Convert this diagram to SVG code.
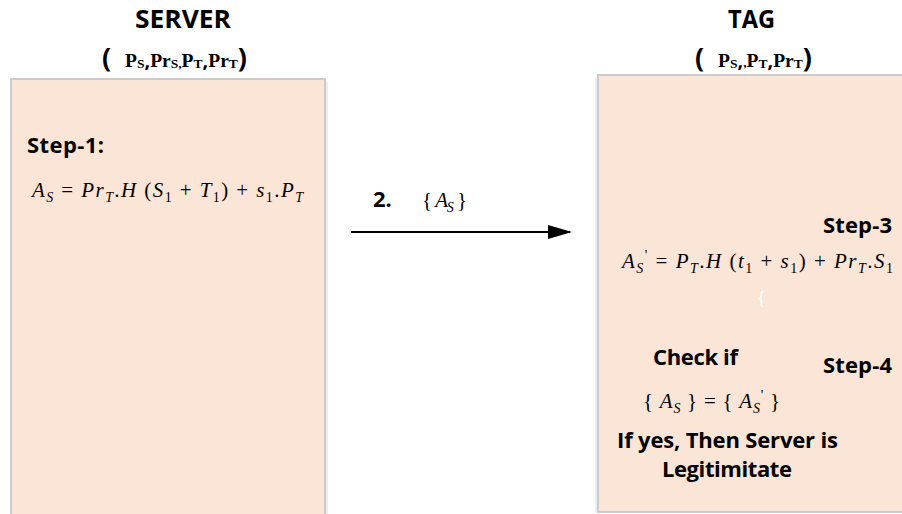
<svg xmlns="http://www.w3.org/2000/svg" width="902" height="514" viewBox="0 0 902 514">
<defs>
<style>
.box{fill:#fbe5d6;stroke:#cbcbcb;stroke-width:2}
.shadow{fill:#e6eef7}
.h{font-family:"Open Sans","Liberation Sans",sans-serif;font-weight:bold;fill:#000}
.title{font-size:25px}
.lbl{font-size:22px}
.paren{font-family:"Open Sans","Liberation Sans",sans-serif;font-weight:bold;font-size:27px}
.cm{font-family:"Open Sans","Liberation Sans",sans-serif;font-weight:bold;font-size:20px}
.ser{font-family:"Liberation Serif","Times New Roman",serif;font-weight:bold;font-size:19.5px}
.sersub{font-size:13.5px}
.m{font-family:"Liberation Serif","Times New Roman",serif;font-style:italic;font-size:21px;fill:#000}
.u{font-style:normal}
.s{font-size:14px}
.conn{stroke:#000;stroke-width:2;fill:none}
</style>
<marker id="arr" markerWidth="12" markerHeight="7" refX="11" refY="3.5" orient="auto" markerUnits="strokeWidth">
<path d="M0,0 L12,3.5 L0,7 Z" fill="#000"/>
</marker>
</defs>
<rect width="902" height="514" fill="#fff"/>

<g id="server">
<rect class="shadow" x="14" y="82" width="314" height="440"/>
<rect class="box" x="11" y="79" width="314" height="440"/>
<text class="h title" x="135" y="28" textLength="96" lengthAdjust="spacingAndGlyphs">SERVER</text>
<text x="102" y="67"><tspan class="paren">(</tspan><tspan class="ser" x="125">P</tspan><tspan class="ser sersub" dy="1">S</tspan><tspan class="cm" dy="-1">,</tspan><tspan class="ser">Pr</tspan><tspan class="ser sersub" dy="1">S,</tspan><tspan class="ser" dy="-1">P</tspan><tspan class="ser sersub" dy="1">T</tspan><tspan class="cm" dy="-1">,</tspan><tspan class="ser">Pr</tspan><tspan class="ser sersub" dy="1">T</tspan><tspan class="paren" dy="-1">)</tspan></text>
<text class="h lbl" x="27" y="153" textLength="77" lengthAdjust="spacing">Step-1:</text>
<text class="m" x="32" y="197" textLength="271" lengthAdjust="spacing">A<tspan class="s" dy="5">S</tspan><tspan class="u" dy="-5"> = </tspan>Pr<tspan class="s" dy="5">T</tspan><tspan class="u" dy="-5">.</tspan>H<tspan class="u"> (</tspan>S<tspan class="u s" dy="5">1</tspan><tspan class="u" dy="-5"> + </tspan>T<tspan class="u s" dy="5">1</tspan><tspan class="u" dy="-5">) + </tspan>s<tspan class="u s" dy="5">1</tspan><tspan class="u" dy="-5">.</tspan>P<tspan class="s" dy="5">T</tspan></text>
</g>

<g id="tag">
<rect class="shadow" x="595" y="78" width="320" height="434"/>
<rect class="box" x="598" y="75" width="320" height="437"/>
<text class="h title" x="728" y="28" textLength="47" lengthAdjust="spacingAndGlyphs">TAG</text>
<text x="695" y="67"><tspan class="paren">(</tspan><tspan class="ser" x="718">P</tspan><tspan class="ser sersub" dy="1">S</tspan><tspan class="cm" dy="-1">,</tspan><tspan class="ser sersub">,</tspan><tspan class="ser">P</tspan><tspan class="ser sersub" dy="1">T</tspan><tspan class="cm" dy="-1">,</tspan><tspan class="ser">Pr</tspan><tspan class="ser sersub" dy="1">T</tspan><tspan class="paren" dy="-1">)</tspan></text>
<text class="h lbl" x="823" y="233" textLength="69" lengthAdjust="spacing">Step-3</text>
<text class="m" x="622" y="268" textLength="271" lengthAdjust="spacing">A<tspan class="s" dy="5">S</tspan><tspan class="u s" dy="-13">'</tspan><tspan class="u" dy="8"> = </tspan>P<tspan class="s" dy="5">T</tspan><tspan class="u" dy="-5">.</tspan>H<tspan class="u"> (</tspan>t<tspan class="u s" dy="5">1</tspan><tspan class="u" dy="-5"> + </tspan>s<tspan class="u s" dy="5">1</tspan><tspan class="u" dy="-5">) + </tspan>Pr<tspan class="s" dy="5">T</tspan><tspan class="u" dy="-5">.</tspan>S<tspan class="u s" dy="5">1</tspan></text>
<text x="757" y="304" font-family="Liberation Serif, serif" font-size="18" fill="#fff">{</text>
<text class="h lbl" x="653" y="365" textLength="85" lengthAdjust="spacing">Check if</text>
<text class="h lbl" x="823" y="373" textLength="69" lengthAdjust="spacing">Step-4</text>
<text class="m" x="643" y="408" textLength="137" lengthAdjust="spacing"><tspan class="u">{ </tspan>A<tspan class="s" dy="5">S</tspan><tspan class="u" dy="-5"> } =  { </tspan>A<tspan class="s" dy="5">S</tspan><tspan class="u s" dy="-13">'</tspan><tspan class="u" dy="8"> }</tspan></text>
<text class="h lbl" x="617" y="448" textLength="221" lengthAdjust="spacing">If yes, Then Server is</text>
<text class="h lbl" x="662" y="477" textLength="130" lengthAdjust="spacing">Legitimitate</text>
</g>

<g id="connectors">
<line class="conn" x1="351" y1="232" x2="570" y2="232" marker-end="url(#arr)"/>
<text class="h lbl" x="373" y="207">2.</text>
<text class="m" x="422" y="207" textLength="45" lengthAdjust="spacing"><tspan class="u">{ </tspan>A<tspan class="s" dy="5">S</tspan><tspan class="u" dy="-5"> }</tspan></text>
</g>
</svg>
